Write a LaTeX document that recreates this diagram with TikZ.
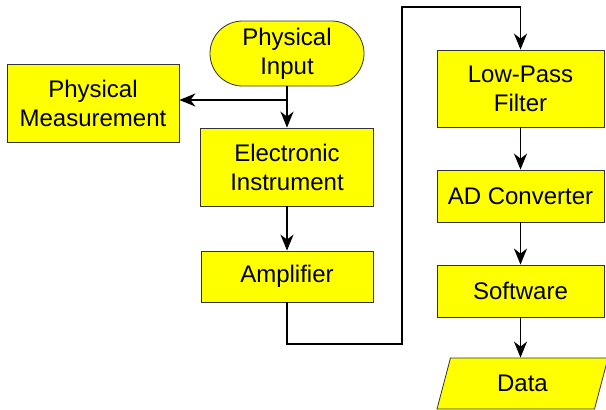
\documentclass[tikz,border=0pt]{standalone}
\usepackage{fontspec}
\setmainfont{Liberation Sans}
\usepackage{xcolor}
\usepackage{tikz}
\usetikzlibrary{arrows.meta, positioning, shapes.geometric, shapes.misc, calc}
\definecolor{flowyellow}{HTML}{FFFF00}
\definecolor{flowedge}{HTML}{333333}

\begin{document}
\begin{tikzpicture}[
    x=1pt, y=-1pt,
    font=\fontsize{24}{29}\selectfont,
    block/.style={draw=flowedge, line width=0.8pt, fill=flowyellow, align=center,
        inner sep=2pt},
    flow/.style={line width=1.8pt, -{Stealth[length=16pt, width=13pt, inset=5pt]}},
]
    \useasboundingbox (0,0) rectangle (606,410);

    % Left column
    \node[block, rounded rectangle, minimum width=158pt, minimum height=65pt]
        (input) at (287,53.5) {Physical\\Input};
    \node[block, minimum width=172pt, minimum height=78pt]
        (measure) at (93,103) {Physical\\Measurement};
    \node[block, minimum width=173pt, minimum height=78pt]
        (instrument) at (287,167) {Electronic\\Instrument};
    \node[block, minimum width=172pt, minimum height=51pt]
        (amplifier) at (287,276.5) {Amplifier};

    % Right column
    \node[block, minimum width=167pt, minimum height=77pt]
        (filter) at (520.5,88.5) {Low-Pass\\Filter};
    \node[block, minimum width=167pt, minimum height=52pt]
        (converter) at (520.5,196) {AD Converter};
    \node[block, minimum width=167pt, minimum height=52pt]
        (software) at (520.5,291) {Software};
    \node[block, trapezium, trapezium left angle=57, trapezium right angle=123,
        trapezium stretches body, minimum width=171pt, minimum height=51pt]
        (data) at (522.5,383.5) {Data};

    % Turning points of the long connector
    \coordinate (lowturn) at (402,344);
    \coordinate (topturn) at (402,7);
    \coordinate (branch) at (287,100);

    % Connectors
    \draw[flow] (input.south) -- (instrument.north);
    \draw[flow] (branch) -- (branch -| measure.east);
    \draw[flow] (instrument.south) -- (amplifier.north);
    \draw[flow] (amplifier.south) |- (lowturn) -- (topturn) -| (filter.north);
    \draw[flow] (filter.south) -- (converter.north);
    \draw[flow] (converter.south) -- (software.north);
    \draw[flow] (software.south) -- (data.north -| software.south);
\end{tikzpicture}
\end{document}
